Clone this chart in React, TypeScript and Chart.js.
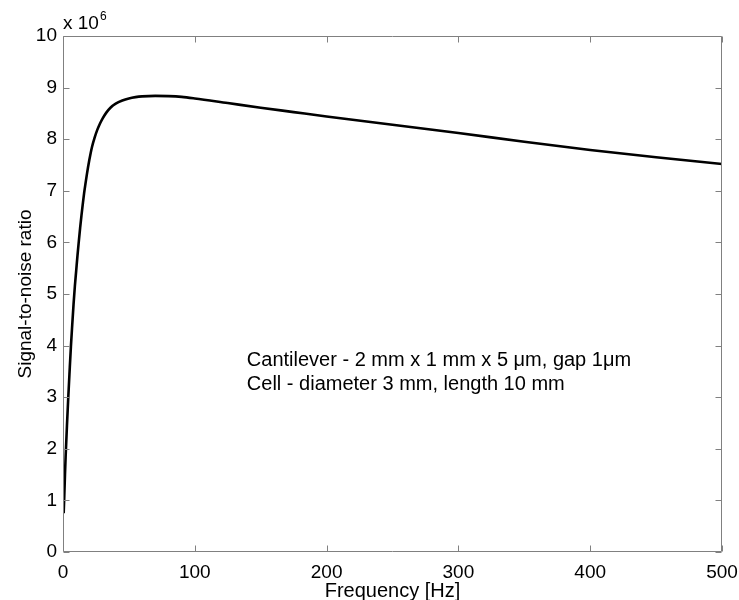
import React, { useEffect, useRef } from "react";
import { Chart, registerables } from "chart.js";

Chart.register(...registerables);

// Frequency (Hz) and signal-to-noise ratio (in units of 10^6)
const frequencyHz = [0.5, 1, 1.5, 2, 3, 4, 5, 6, 7, 8, 9, 10, 11, 12, 13, 14, 15, 16, 17, 18, 20, 22, 24, 26, 28, 30, 33, 36, 40, 45, 50, 55, 60, 70, 80, 90, 100, 125, 150, 175, 200, 250, 300, 350, 400, 450, 500];
const snrMillions = [0.75, 1.1, 1.5, 1.85, 2.45, 3.0, 3.5, 3.98, 4.4, 4.8, 5.15, 5.45, 5.75, 6.02, 6.28, 6.52, 6.74, 6.95, 7.13, 7.3, 7.6, 7.85, 8.03, 8.18, 8.3, 8.4, 8.52, 8.61, 8.69, 8.75, 8.79, 8.815, 8.83, 8.84, 8.835, 8.82, 8.79, 8.70, 8.61, 8.525, 8.44, 8.28, 8.12, 7.95, 7.79, 7.65, 7.52];

const xTickValues = [0, 100, 200, 300, 400, 500];
const yTickValues = [0, 1, 2, 3, 4, 5, 6, 7, 8, 9, 10];

const xLabel = "Frequency [Hz]";
const yLabel = "Signal-to-noise ratio";
const exponentBase = "x 10";
const exponentPower = "6";
const annotationLines = [
  "Cantilever - 2 mm x 1 mm x 5 \u03bcm, gap 1\u03bcm",
  "Cell - diameter 3 mm, length 10 mm",
];

const FONT = "'Liberation Sans', Arial, Helvetica, sans-serif";
const AXIS_COLOR = "#808080";

const framePlugin = {
  id: "matlabFrame",
  afterDraw(chart: any) {
    const { ctx, chartArea, scales } = chart;
    const { left, right, top, bottom } = chartArea;
    const xs = scales.x;
    const ys = scales.y;
    ctx.save();
    ctx.strokeStyle = AXIS_COLOR;
    ctx.lineWidth = 1;
    const L = Math.round(left) + 0.5;
    const R = Math.round(right) - 0.5;
    const T = Math.round(top) + 0.5;
    const B = Math.round(bottom) - 0.5;
    ctx.beginPath();
    ctx.rect(L, T, R - L, B - T);
    ctx.stroke();
    const tl = 6;
    ctx.beginPath();
    xTickValues.forEach((v) => {
      const px = Math.round(xs.getPixelForValue(v)) + 0.5;
      ctx.moveTo(px, B);
      ctx.lineTo(px, B - tl);
      ctx.moveTo(px, T);
      ctx.lineTo(px, T + tl);
    });
    yTickValues.forEach((v) => {
      const py = Math.round(ys.getPixelForValue(v)) + 0.5;
      ctx.moveTo(L, py);
      ctx.lineTo(L + tl, py);
      ctx.moveTo(R, py);
      ctx.lineTo(R - tl, py);
    });
    ctx.stroke();

    // exponent label
    ctx.fillStyle = "#000";
    ctx.textBaseline = "alphabetic";
    ctx.textAlign = "left";
    ctx.font = `19px ${FONT}`;
    ctx.fillText(exponentBase, left, top - 7);
    const w = ctx.measureText(exponentBase).width;
    ctx.font = `12px ${FONT}`;
    ctx.fillText(exponentPower, left + w + 1, top - 16);

    // annotation
    ctx.font = `20px ${FONT}`;
    const ax = xs.getPixelForValue(139.5);
    const ay = ys.getPixelForValue(3.6);
    annotationLines.forEach((line, i) => {
      ctx.fillText(line, ax, ay + i * 24);
    });
    ctx.restore();
  },
};

export default function App() {
  const canvasRef = useRef<HTMLCanvasElement | null>(null);

  useEffect(() => {
    const canvas = canvasRef.current;
    if (!canvas) return;
    const chart = new Chart(canvas, {
      type: "line",
      data: {
        datasets: [
          {
            data: frequencyHz.map((f, i) => ({ x: f, y: snrMillions[i] })),
            borderColor: "#000",
            borderWidth: 2.6,
            pointRadius: 0,
            cubicInterpolationMode: "monotone",
            fill: false,
          },
        ],
      },
      options: {
        animation: false,
        responsive: true,
        maintainAspectRatio: false,
        layout: { padding: { top: 36, right: 17, left: 0, bottom: 0 } },
        plugins: {
          legend: { display: false },
          tooltip: { enabled: false },
        },
        font: { family: FONT, size: 19 },
        scales: {
          x: {
            type: "linear",
            min: 0,
            max: 500,
            afterFit: (s: any) => {
              s.height = 48;
              s.paddingLeft = 0;
              s.paddingRight = 0;
            },
            afterBuildTicks: (s: any) => {
              s.ticks = xTickValues.map((v) => ({ value: v }));
            },
            grid: { display: false, drawTicks: false },
            border: { display: false },
            ticks: {
              color: "#000",
              padding: 9,
              maxRotation: 0,
              font: { family: FONT, size: 19 },
            },
            title: {
              display: true,
              text: xLabel,
              color: "#000",
              font: { family: FONT, size: 20 },
              padding: { top: 0, bottom: -3 },
            },
          },
          y: {
            type: "linear",
            min: 0,
            max: 10,
            afterFit: (s: any) => {
              s.width = 63;
              s.paddingTop = 0;
              s.paddingBottom = 0;
            },
            afterBuildTicks: (s: any) => {
              s.ticks = yTickValues.map((v) => ({ value: v }));
            },
            grid: { display: false, drawTicks: false },
            border: { display: false },
            ticks: {
              color: "#000",
              padding: 6,
              font: { family: FONT, size: 19 },
            },
            title: {
              display: true,
              text: yLabel,
              color: "#000",
              font: { family: FONT, size: 19 },
              padding: { top: 14, bottom: 0 },
            },
          },
        },
      },
      plugins: [framePlugin],
    } as any);
    return () => chart.destroy();
  }, []);

  return (
    <div style={{ position: "absolute", left: 0, top: 0, width: 739, height: 600, background: "#fff" }}>
      <canvas ref={canvasRef} />
    </div>
  );
}
